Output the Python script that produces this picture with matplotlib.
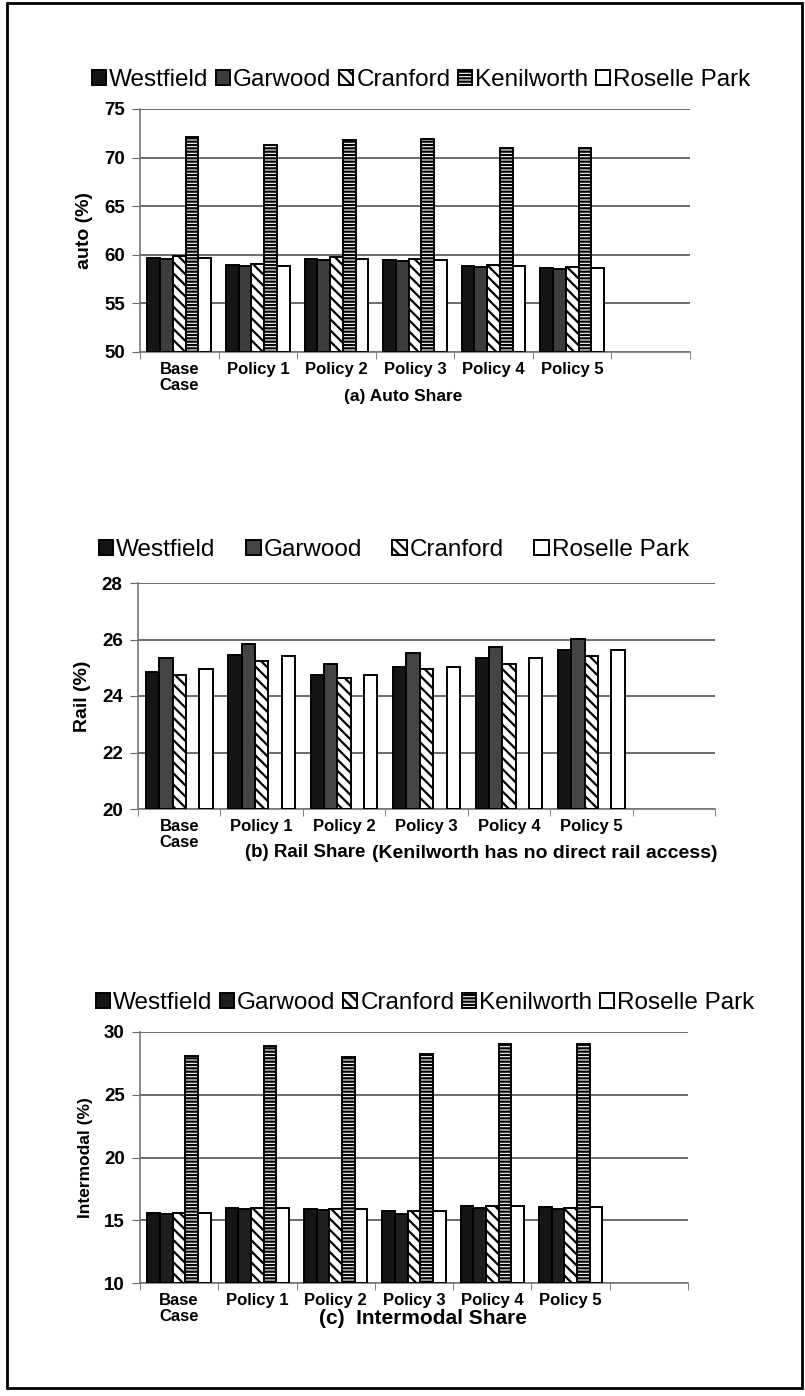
import matplotlib
matplotlib.use("Agg")
import matplotlib.pyplot as plt
from matplotlib.patches import Patch, Rectangle
import numpy as np

plt.rcParams['font.family'] = ['Liberation Sans', 'DejaVu Sans']
plt.rcParams['hatch.linewidth'] = 1.6

cases = ["Base\nCase", "Policy 1", "Policy 2", "Policy 3", "Policy 4", "Policy 5"]
towns = ["Westfield", "Garwood", "Cranford", "Kenilworth", "Roselle Park"]

# (a) auto share (%)
auto_westfield = [59.7, 58.9, 59.6, 59.5, 58.8, 58.6]
auto_garwood = [59.6, 58.8, 59.5, 59.4, 58.7, 58.5]
auto_cranford = [59.9, 59.1, 59.8, 59.6, 58.9, 58.7]
auto_kenilworth = [72.1, 71.3, 71.8, 71.9, 71.0, 71.0]
auto_roselle = [59.7, 58.8, 59.6, 59.5, 58.8, 58.6]

# (b) rail share (%) - no Kenilworth
rail_westfield = [24.84, 25.45, 24.73, 25.04, 25.34, 25.63]
rail_garwood = [25.33, 25.83, 25.13, 25.53, 25.73, 26.03]
rail_cranford = [24.73, 25.25, 24.63, 24.94, 25.13, 25.43]
rail_roselle = [24.94, 25.42, 24.73, 25.03, 25.33, 25.63]

# (c) intermodal share (%)
inter_westfield = [15.6, 16.0, 15.9, 15.7, 16.15, 16.05]
inter_garwood = [15.5, 15.9, 15.8, 15.5, 16.0, 15.9]
inter_cranford = [15.6, 16.0, 15.9, 15.7, 16.15, 16.0]
inter_kenilworth = [28.05, 28.9, 28.0, 28.25, 29.05, 29.05]
inter_roselle = [15.6, 16.0, 15.9, 15.7, 16.15, 16.05]

W, H = 805, 1396
fig = plt.figure(figsize=(W / 100, H / 100), dpi=100)


def box(l, t, r, b):
    return [l / W, 1 - b / H, (r - l) / W, (b - t) / H]


def styles(garwood_color):
    return [
        dict(facecolor="#151515", hatch=None),
        dict(facecolor=garwood_color, hatch=None),
        dict(facecolor="white", hatch="\\\\\\"),
        dict(facecolor="white", hatch="-----"),
        dict(facecolor="white", hatch=None),
    ]


def panel(rect, series, slots, ylim, yticks, ylabel, garwood_color, ylabel_size):
    ax = fig.add_axes(rect)
    st = styles(garwood_color)
    w = 0.162
    x = np.arange(len(cases))
    for k, vals in series.items():
        s = st[k]
        ax.bar(x + (k - 2) * w, np.array(vals) - ylim[0], w, bottom=ylim[0],
               facecolor=s["facecolor"], edgecolor="black",
               hatch=s["hatch"], linewidth=1.4, zorder=3)
    ax.set_xlim(-0.5, slots - 0.5)
    ax.set_ylim(*ylim)
    ax.set_yticks(yticks)
    ax.set_yticklabels([str(v) for v in yticks], fontsize=13.5, fontweight="bold")
    ax.set_xticks(x)
    ax.set_xticklabels(cases, fontsize=12, fontweight="bold", linespacing=1.1,
                       va="top")
    ax.tick_params(axis="x", length=0, pad=7)
    ax.set_xticks(np.arange(slots + 1) - 0.5, minor=True)
    ax.tick_params(axis="x", which="minor", length=5, direction="out", color="#666")
    ax.tick_params(axis="y", length=6, direction="out", color="#666", pad=5)
    ax.grid(axis="y", color="#444", linewidth=1.1, zorder=0)
    for sp in ["top", "right"]:
        ax.spines[sp].set_visible(False)
    for sp in ["left", "bottom"]:
        ax.spines[sp].set_color("#777")
        ax.spines[sp].set_linewidth(1.2)
    ax.set_ylabel(ylabel, fontsize=ylabel_size, fontweight="bold", labelpad=8)
    return ax


def legend(idx, cx, cy, colsp, garwood_color):
    st = styles(garwood_color)
    handles = [Patch(facecolor=st[i]["facecolor"], edgecolor="black",
                     hatch=st[i]["hatch"], linewidth=1.4) for i in idx]
    fig.legend(handles, [towns[i] for i in idx], loc="center",
               bbox_to_anchor=(cx / W, 1 - cy / H), ncol=len(idx), frameon=False,
               fontsize=17.5, handlelength=0.6, handleheight=0.6,
               handletextpad=0.12, columnspacing=colsp, borderpad=0)


# (a)
panel(box(140, 109, 690, 352),
      {0: auto_westfield, 1: auto_garwood, 2: auto_cranford, 3: auto_kenilworth, 4: auto_roselle},
      7, (50, 75), [50, 55, 60, 65, 70, 75], "auto (%)", "#3c3c3c", 14)
legend([0, 1, 2, 3, 4], 421, 80, 0.3, "#3c3c3c")
fig.text(403 / W, 1 - 396 / H, "(a) Auto Share", ha="center", va="center",
         fontsize=12.5, fontweight="bold")

# (b)
panel(box(138, 583, 715, 809),
      {0: rail_westfield, 1: rail_garwood, 2: rail_cranford, 4: rail_roselle},
      7, (20, 28), [20, 22, 24, 26, 28], "Rail (%)", "#444444", 14)
legend([0, 1, 2, 4], 394, 550, 1.25, "#444444")
fig.text(245 / W, 1 - 853 / H, "(b) Rail Share", ha="left", va="center",
         fontsize=13.5, fontweight="bold")
fig.text(372 / W, 1 - 854 / H, "(Kenilworth has no direct rail access)", ha="left",
         va="center", fontsize=14, fontweight="bold")

# (c)
panel(box(140, 1032, 688, 1283),
      {0: inter_westfield, 1: inter_garwood, 2: inter_cranford, 3: inter_kenilworth, 4: inter_roselle},
      7, (10, 30), [10, 15, 20, 25, 30], "Intermodal (%)", "#1e1e1e", 12.5)
legend([0, 1, 2, 3, 4], 425, 1003, 0.3, "#1e1e1e")
fig.text(423 / W, 1 - 1318 / H, "(c)  Intermodal Share", ha="center", va="center",
         fontsize=15, fontweight="bold")

# outer frame
fig.patches.append(Rectangle((7 / W, 1 - 1388 / H), 795 / W, 1385 / H,
                             transform=fig.transFigure, fill=False,
                             edgecolor="black", linewidth=2))

fig.savefig("out.png", dpi=100)
